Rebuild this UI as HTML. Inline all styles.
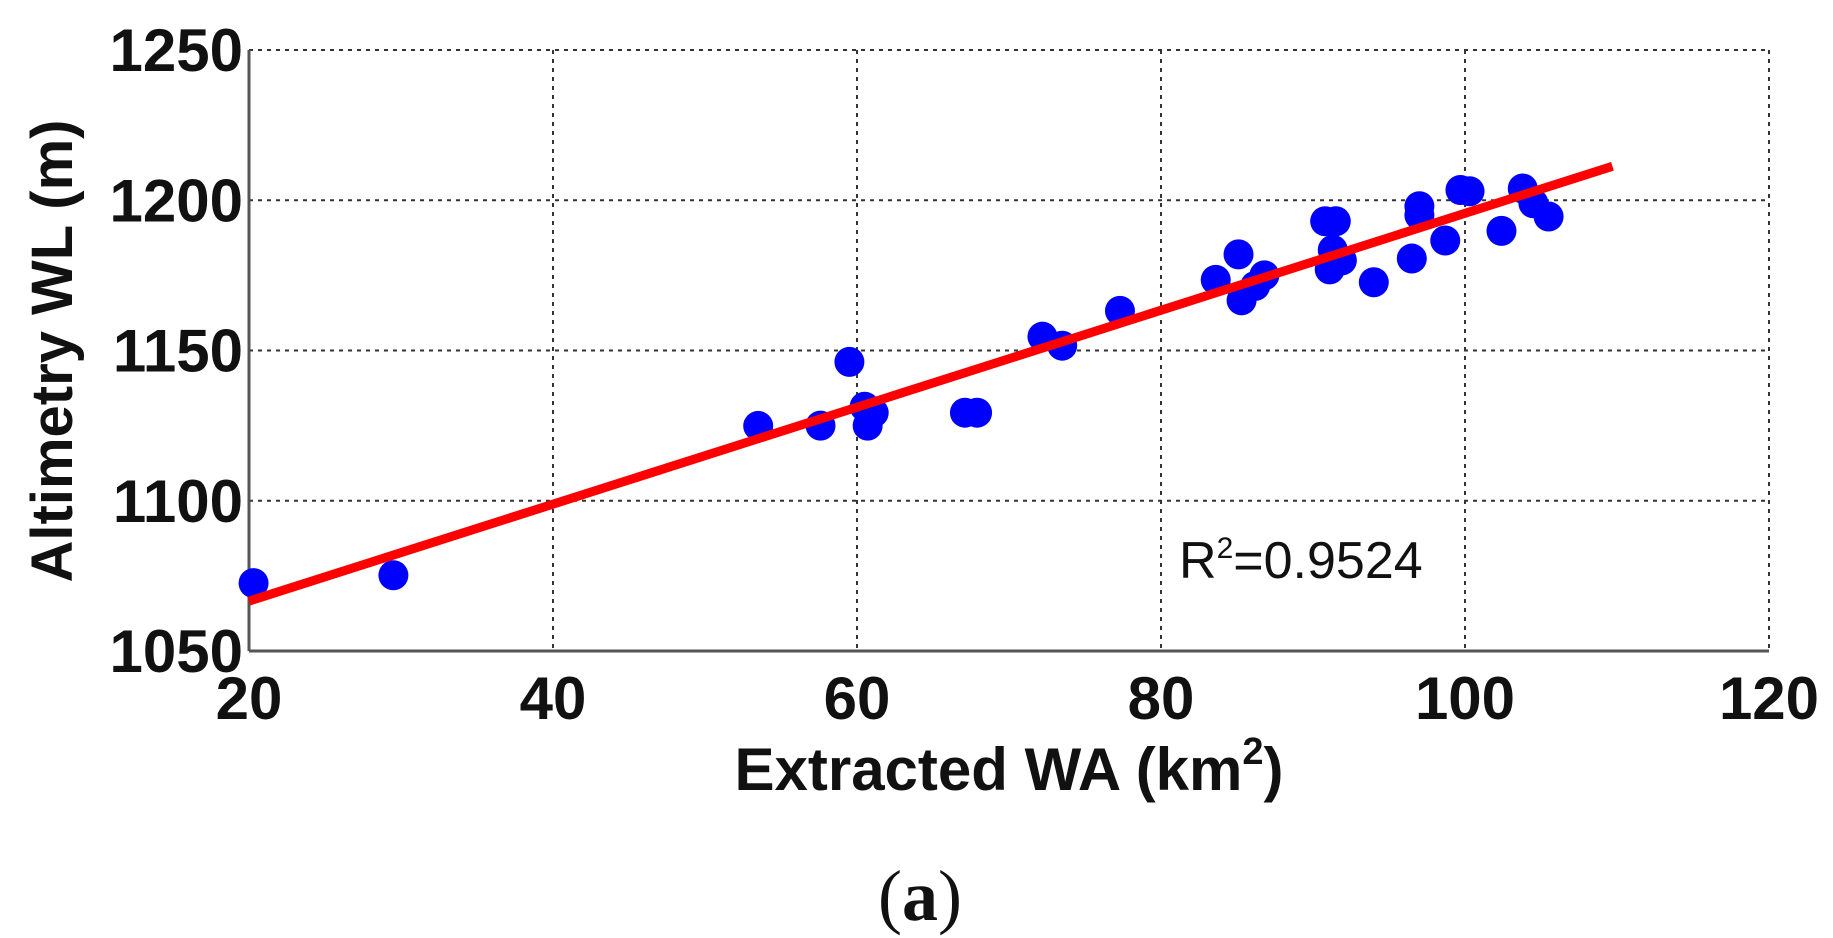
<!DOCTYPE html>
<html><head><meta charset="utf-8"><style>
body{margin:0;background:#fff;}
svg{display:block;font-family:"Liberation Sans",Arial,sans-serif;}
</style></head><body>
<svg id="chart" width="1833" height="938" viewBox="0 0 1833 938">
<g id="grid"></g>
<g id="axes"></g>
<g id="points"></g>
<g id="fit"></g>
<text x="1179" y="578" font-size="52" fill="#111">R<tspan font-size="30" dy="-20">2</tspan><tspan dy="20">=0.9524</tspan></text>
<text x="1009" y="790" font-size="60" font-weight="bold" text-anchor="middle" fill="#111">Extracted WA (km<tspan font-size="38" dy="-26">2</tspan><tspan dy="26">)</tspan></text>
<text transform="translate(72,351) rotate(-90)" font-size="58" font-weight="bold" text-anchor="middle" fill="#111">Altimetry WL (m)</text>
<text x="920" y="920" font-size="72" font-family="Liberation Serif,serif" text-anchor="middle" fill="#111">(<tspan font-weight="bold">a</tspan>)</text>
</svg>
<script>
const xTicks=[20,40,60,80,100,120];
const yTicks=[1050,1100,1150,1200,1250];
const xVals=[20.3,29.5,53.5,57.6,59.5,60.5,60.7,61.1,67.1,67.9,72.2,73.5,77.3,83.6,85.1,85.3,86.2,86.8,90.8,91.5,91.3,91.1,91.9,94.0,96.5,97.0,97.0,98.7,99.7,100.3,102.4,103.8,104.5,105.5];
const yVals=[1072.6,1075.2,1124.9,1125,1146.2,1131.3,1125,1129.3,1129.3,1129.3,1154.6,1151.6,1163.2,1173.5,1182,1166.7,1171.5,1175,1193,1193,1183.5,1177,1180,1172.7,1180.6,1195,1198,1186.6,1203.4,1203,1189.8,1203.9,1199,1194.6];
const fitX=[20,109.7];
const fitY=[1066.6,1211.3];
const NS="http://www.w3.org/2000/svg";
const L=249,R=1769,T=50,B=651;
const sx=v=>L+(v-20)/(120-20)*(R-L);
const sy=v=>B-(v-1050)/(1250-1050)*(B-T);
function mk(tag,attrs,parent){const e=document.createElementNS(NS,tag);for(const k in attrs)e.setAttribute(k,attrs[k]);parent.appendChild(e);return e;}
const grid=document.getElementById('grid'),axes=document.getElementById('axes'),pts=document.getElementById('points'),fit=document.getElementById('fit');
xTicks.forEach(t=>{
 const g=mk('line',{x1:sx(t),x2:sx(t),y1:T,y2:B,stroke:'#333','stroke-width':2,'stroke-dasharray':'4 5'},grid);
 
 
 const lb=mk('text',{x:sx(t),y:B+68,'font-size':60,'font-weight':'bold','text-anchor':'middle',fill:'#111'},axes);
 lb.textContent=t;
 
 
});
yTicks.forEach(t=>{
 const g=mk('line',{x1:L,x2:R,y1:sy(t),y2:sy(t),stroke:'#333','stroke-width':2,'stroke-dasharray':'4 5'},grid);
 
 
 const lb=mk('text',{x:L-6,y:sy(t)+21,'font-size':60,'font-weight':'bold','text-anchor':'end',fill:'#111'},axes);
 lb.textContent=t;
 
 
});
const xa=mk('line',{x1:L,x2:R,y1:B,y2:B,stroke:'#555','stroke-width':3},axes);


const ya=mk('line',{x1:L,x2:L,y1:T,y2:B,stroke:'#555','stroke-width':3},axes);


xVals.forEach((v,i)=>{
 const c=mk('circle',{cx:sx(v),cy:sy(yVals[i]),r:15,fill:'#0000ff'},pts);
 
 
});
const fl=mk('line',{x1:sx(fitX[0]),y1:sy(fitY[0]),x2:sx(fitX[1]),y2:sy(fitY[1]),stroke:'#ff0000','stroke-width':9},fit);


</script>
</body></html>
